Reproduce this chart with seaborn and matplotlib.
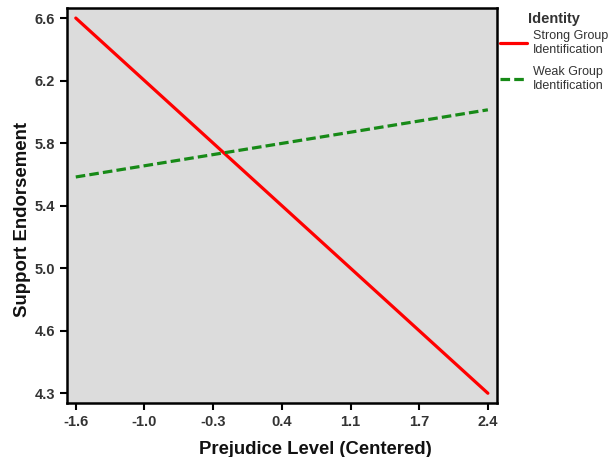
import numpy as np
import pandas as pd
import matplotlib
matplotlib.use("Agg")
import matplotlib.pyplot as plt
import seaborn as sns

# 数据
prejudice = [-1.6, 2.4]
strong_vals = [6.57, 4.28]
weak_vals = [5.60, 6.01]
groups = ["Strong Group\nIdentification", "Weak Group\nIdentification"]
x_tick_labels = ["-1.6", "-1.0", "-0.3", "0.4", "1.1", "1.7", "2.4"]
y_tick_labels = ["4.3", "4.6", "5.0", "5.4", "5.8", "6.2", "6.6"]

df = pd.DataFrame({
    "Prejudice": prejudice * 2,
    "Support": strong_vals + weak_vals,
    "Identity": [groups[0]] * 2 + [groups[1]] * 2,
})

sns.set_style("ticks")
plt.rcParams["font.family"] = ["Liberation Sans", "DejaVu Sans"]

fig = plt.figure(figsize=(6.12, 4.57), dpi=100)
ax = fig.add_axes([0.109, 0.118, 0.703, 0.864])
ax.set_facecolor("#dcdcdc")

sns.lineplot(data=df, x="Prejudice", y="Support", hue="Identity", style="Identity",
             palette=["#ff0000", "#178a17"], dashes=[(None, None), (3.0, 1.3)],
             linewidth=2.3, ax=ax)

ax.set_xlim(-1.688, 2.488)
ax.set_ylim(4.22, 6.63)
ax.set_xticks(np.linspace(prejudice[0], prejudice[1], 7))
ax.set_xticklabels(x_tick_labels)
ax.set_yticks(np.linspace(strong_vals[1], strong_vals[0], 7))
ax.set_yticklabels(y_tick_labels)
ax.tick_params(axis="both", labelsize=10.5, width=1.5, length=5, colors="#333333")
ax.tick_params(axis="both", color="black")
for lab in ax.get_xticklabels() + ax.get_yticklabels():
    lab.set_fontweight("bold")
for s in ax.spines.values():
    s.set_linewidth(1.8)
    s.set_color("black")

ax.set_xlabel("Prejudice Level (Centered)", fontsize=13.3, fontweight="bold", labelpad=8.5, color="#111111")
ax.set_ylabel("Support Endorsement", fontsize=13.4, fontweight="bold", labelpad=2.5, color="#111111")
# 原图的轴标题不是居中的
ax.xaxis.label.set_x(0.578)
ax.yaxis.label.set_y(0.465)

# 图例：标题单独放
fig.text(0.905, 0.958, "Identity", fontsize=10.5, fontweight="bold", ha="center", va="center", color="#333333")
leg = ax.legend(loc="upper left", bbox_to_anchor=(1.002, 0.95),
                frameon=False, fontsize=9, handlelength=2.1, handletextpad=0.5,
                labelspacing=0.8, borderaxespad=0.0, borderpad=0.2)
for t in leg.get_texts():
    t.set_color("#333333")

fig.savefig("out.png", dpi=100)
